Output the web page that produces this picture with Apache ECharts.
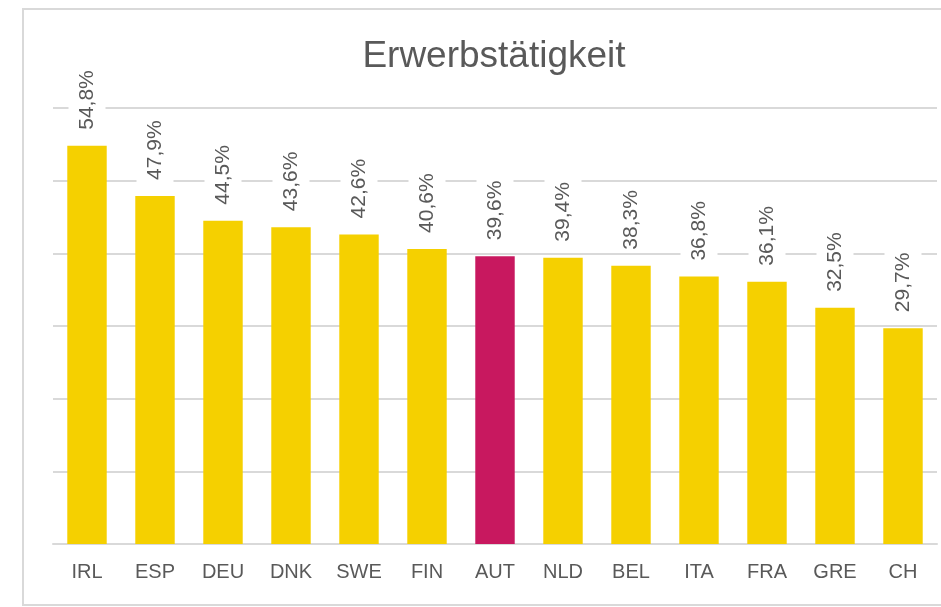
<!DOCTYPE html>
<html>
<head>
<meta charset="utf-8">
<script src="https://cdn.jsdelivr.net/npm/echarts@6/dist/echarts.min.js"></script>
<style>html,body{margin:0;padding:0;background:#fff;}#c{width:941px;height:607px;}</style>
</head>
<body>
<div id="c"></div>
<script>
const categories = ['IRL','ESP','DEU','DNK','SWE','FIN','AUT','NLD','BEL','ITA','FRA','GRE','CH'];
const values = [54.8, 47.9, 44.5, 43.6, 42.6, 40.6, 39.6, 39.4, 38.3, 36.8, 36.1, 32.5, 29.7];
const highlight = 'AUT';
const yTicks = [0, 10, 20, 30, 40, 50, 60];
const titleText = 'Erwerbstätigkeit';

const chart = echarts.init(document.getElementById('c'), null, {renderer: 'canvas'});
const font = 'Liberation Sans, Arial, sans-serif';
chart.setOption({
  backgroundColor: '#fff',
  animation: false,
  title: {
    text: titleText, left: 489, top: 33, textAlign: 'center',
    textStyle: {fontFamily: font, fontSize: 37, fontWeight: 'normal', color: '#595959'}
  },
  graphic: [{
    type: 'rect', shape: {x: 23, y: 9, width: 940, height: 596},
    style: {fill: null, stroke: '#d9d9d9', lineWidth: 2}, silent: true, z: -1
  }],
  grid: {left: 53, right: 4, top: 108, bottom: 63, containLabel: false},
  xAxis: {
    type: 'category', data: categories,
    axisLine: {lineStyle: {color: '#d9d9d9', width: 2}},
    axisTick: {show: false},
    axisLabel: {fontFamily: font, fontSize: 20, color: '#595959', margin: 18}
  },
  yAxis: {
    type: 'value', min: yTicks[0], max: yTicks[yTicks.length - 1], interval: 10,
    axisLabel: {show: false}, axisLine: {show: false}, axisTick: {show: false},
    splitLine: {lineStyle: {color: '#d9d9d9', width: 2}}
  },
  series: [{
    type: 'bar', barWidth: '58%',
    data: values.map((v, i) => ({
      value: v,
      itemStyle: {color: categories[i] === highlight ? '#C8185F' : '#F5D000'}
    })),
    label: {
      show: true, position: 'top', rotate: 90, align: 'left', verticalAlign: 'middle',
      distance: 13, fontFamily: font, fontSize: 21, color: '#595959',
      backgroundColor: '#fff', padding: [8, 3, 8, 3],
      formatter: p => p.value.toFixed(1).replace('.', ',') + '%'
    }
  }]
});
</script>
</body>
</html>
